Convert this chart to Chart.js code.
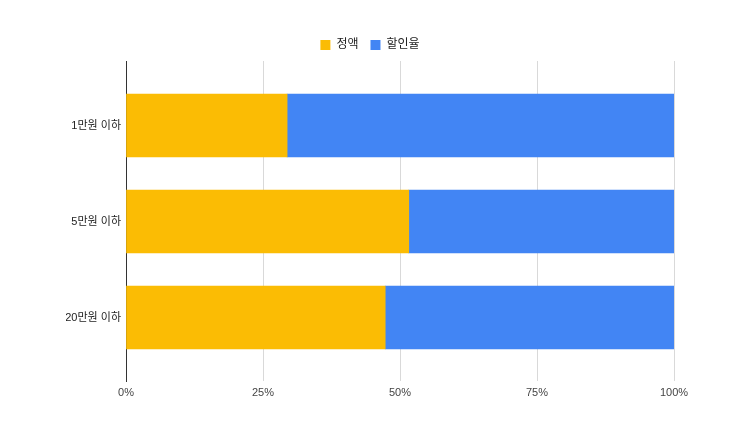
<!DOCTYPE html>
<html>
<head>
<meta charset="utf-8">
<script src="https://cdn.jsdelivr.net/npm/chart.js@4"></script>
<style>
  html, body { margin: 0; padding: 0; background: #fff; }
  #wrap { width: 743px; height: 431px; }
</style>
</head>
<body>
<div id="wrap"><canvas id="chart" width="743" height="431"></canvas></div>
<script>
// 카테고리 & 값 (%)
const categories = ["1만원 이하", "5만원 이하", "20만원 이하"];
const flatRate = [29.4, 51.6, 47.3];      // 정액
const discountRate = [70.6, 48.4, 52.7];  // 할인율
const xTicks = [0, 25, 50, 75, 100];

const FONT = "Arial, 'Liberation Sans', 'Noto Sans CJK KR', sans-serif";

const ctx = document.getElementById("chart").getContext("2d");

new Chart(ctx, {
  type: "bar",
  data: {
    labels: categories,
    datasets: [
      { label: "정액", data: flatRate, backgroundColor: "#fbbc04" },
      { label: "할인율", data: discountRate, backgroundColor: "#4285f4" }
    ]
  },
  options: {
    indexAxis: "y",
    responsive: false,
    animation: false,
    barThickness: 63,
    layout: { padding: { top: 27, left: 66, right: 69, bottom: 0 } },
    scales: {
      x: {
        stacked: true,
        min: 0,
        max: 100,
        afterBuildTicks: s => { s.ticks = xTicks.map(v => ({ value: v })); },
        afterFit: s => { s.height = 50; },
        grid: { color: "#d9d9d9", drawTicks: false },
        border: { display: false },
        ticks: {
          callback: v => v + "%",
          color: "#444",
          font: { family: FONT, size: 11 },
          padding: 5,
          maxRotation: 0
        }
      },
      y: {
        stacked: true,
        // 위/아래 여백: 카테고리 범위를 조금 넓힘
        afterBuildTicks: s => { s._startValue = -0.672; s._valueRange = 3.333; },
        afterFit: s => { s.width = 60; },
        grid: { display: false, drawTicks: false },
        border: { display: true, color: "#333", width: 1 },
        ticks: {
          color: "#222",
          font: { family: FONT, size: 11 },
          padding: 5
        }
      }
    },
    plugins: {
      legend: {
        position: "top",
        labels: {
          boxWidth: 10,
          boxHeight: 10,
          padding: 12,
          color: "#222",
          font: { family: FONT, size: 12 }
        }
      },
      tooltip: { enabled: false }
    }
  }
});
</script>
</body>
</html>
